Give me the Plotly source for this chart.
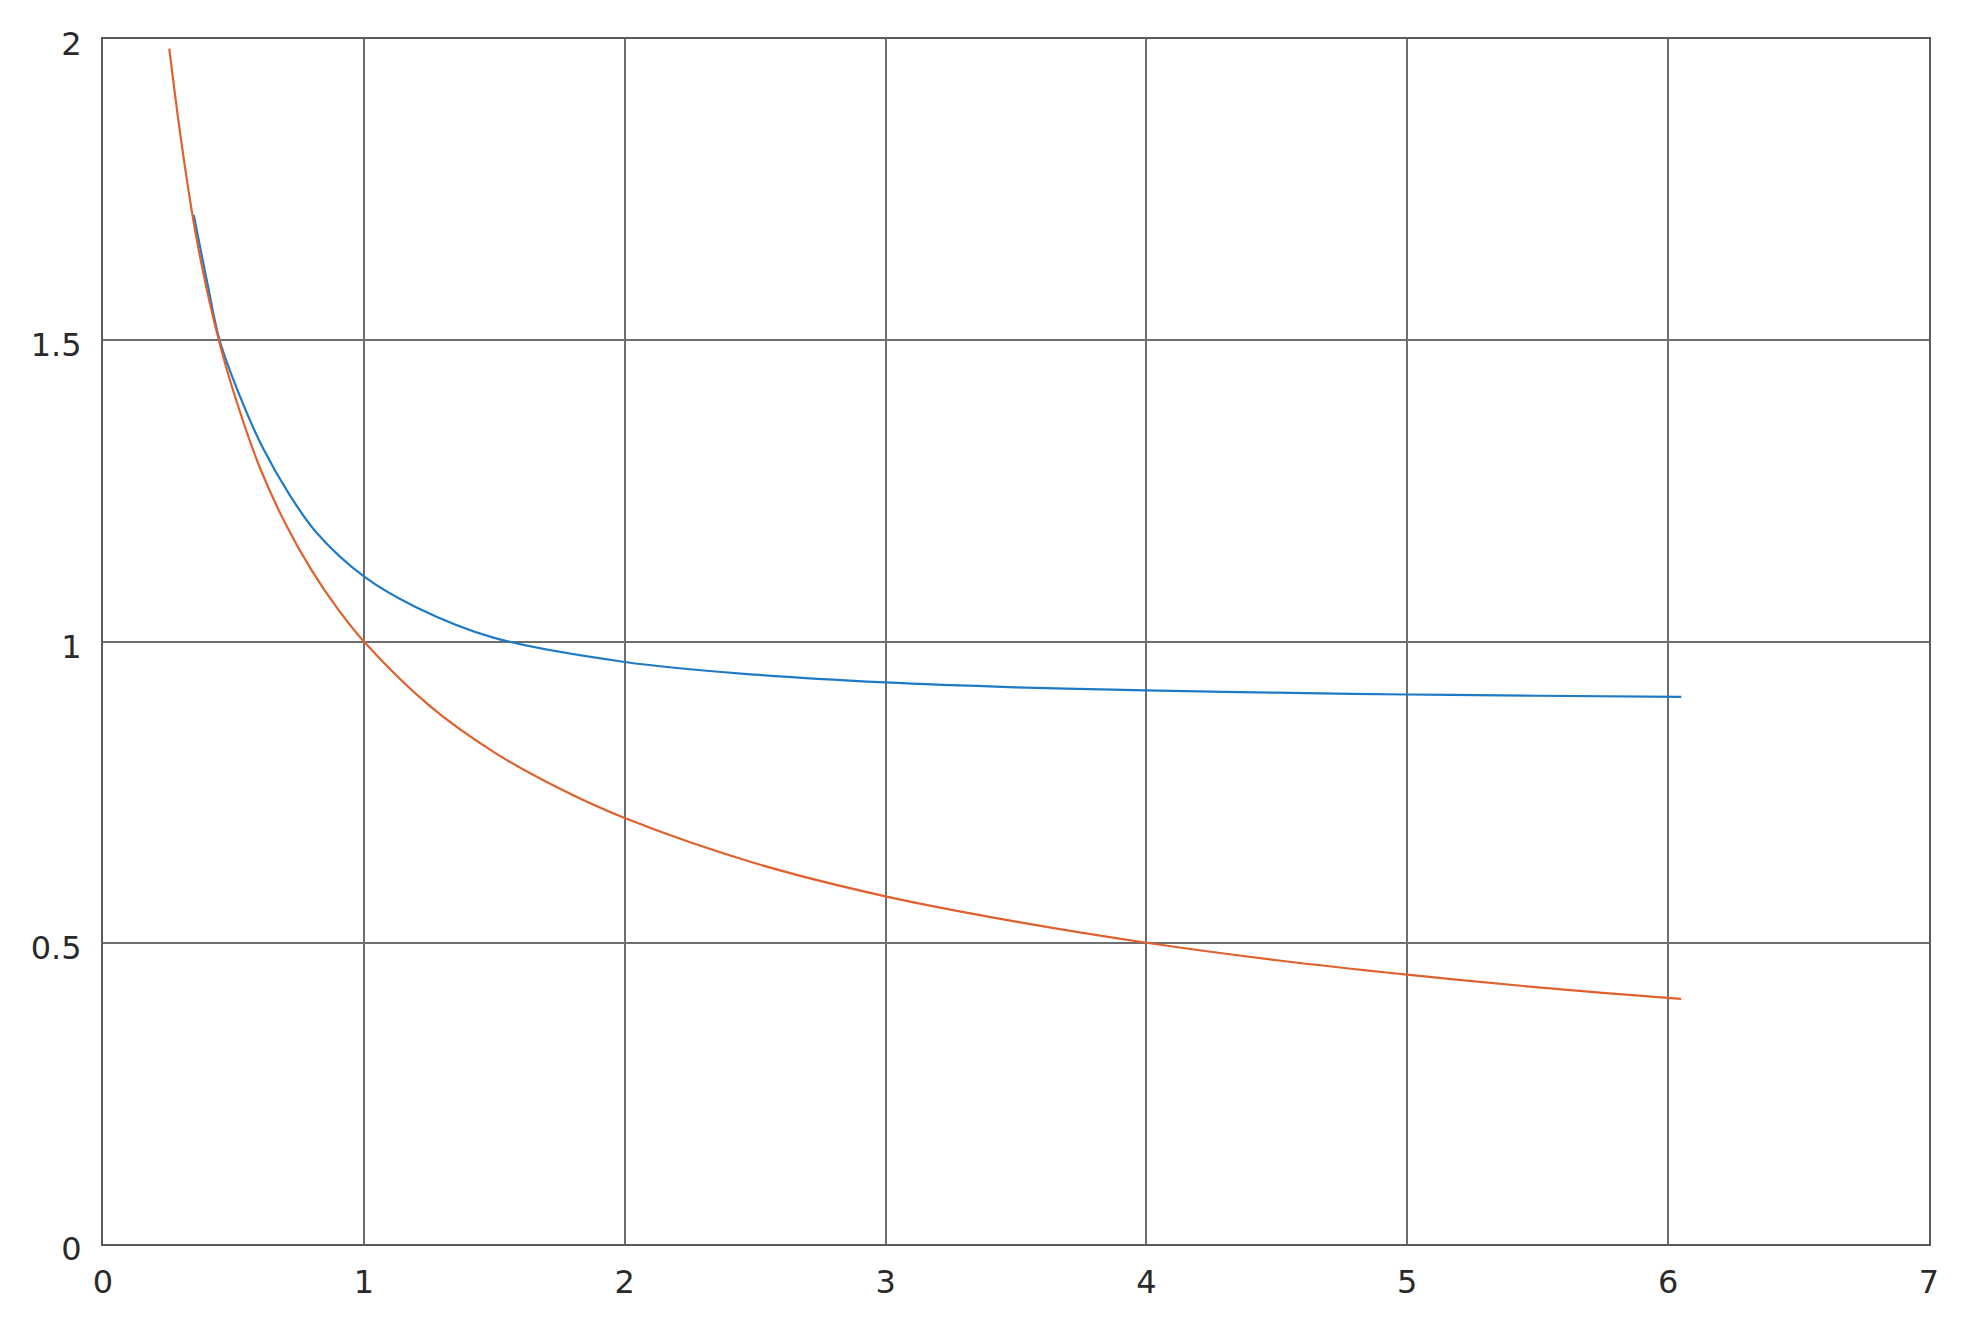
import plotly.graph_objects as go

# values
blue_x = [0.348, 0.40, 0.447, 0.524, 0.613, 0.716, 0.818, 1.0, 1.2, 1.5, 2.0, 2.5, 3.0, 3.5, 4.0, 4.5, 5.0, 5.5, 6.05]
blue_y = [1.708, 1.595, 1.5, 1.408, 1.321, 1.243, 1.181, 1.108, 1.057, 1.006, 0.966, 0.945, 0.932, 0.924, 0.919, 0.915, 0.912, 0.910, 0.908]

orange_x = [0.254, 0.30, 0.35, 0.40, 0.45, 0.5, 0.6, 0.7, 0.8, 0.9, 1.0, 1.25, 1.5, 1.75, 2.0, 2.5, 3.0, 3.5, 4.0, 4.5, 5.0, 5.5, 6.05]
orange_y = [1.984, 1.83, 1.69, 1.58, 1.49, 1.415, 1.29, 1.195, 1.118, 1.054, 1.0, 0.894, 0.816, 0.756, 0.707, 0.632, 0.577, 0.535, 0.5, 0.471, 0.447, 0.426, 0.407]

x_ticks = [0, 1, 2, 3, 4, 5, 6, 7]
y_ticks = [0, 0.5, 1, 1.5, 2]
y_labels = ["0", "0.5", "1", "1.5", "2"]

fig = go.Figure()
fig.add_trace(go.Scatter(x=blue_x, y=blue_y, mode="lines", line=dict(color="#1f7ac6", width=2.2, shape="spline")))
fig.add_trace(go.Scatter(x=orange_x, y=orange_y, mode="lines", line=dict(color="#e0602e", width=2.2, shape="spline")))

axis_style = dict(
    showgrid=True, gridcolor="#6e6e6e", gridwidth=2,
    showline=True, linecolor="#5a5a5a", linewidth=2, mirror=True,
    zeroline=False, ticks="",
    tickfont=dict(family="DejaVu Sans", size=32, color="#2a2a2a"),
)

fig.update_xaxes(range=[0, 7], tickvals=x_ticks, ticklabelstandoff=9, **axis_style)
fig.update_yaxes(range=[0, 2], tickvals=y_ticks, ticktext=y_labels,
                 ticklabelstandoff=13, ticklabelshift=5, **axis_style)

# the page adds an 8px body margin, so the figure is a bit smaller than the window
fig.update_layout(
    width=1948, height=1313,
    margin=dict(l=95, r=27, t=31, b=77),
    paper_bgcolor="white", plot_bgcolor="white",
    showlegend=False,
)

fig.write_html("out.html")
